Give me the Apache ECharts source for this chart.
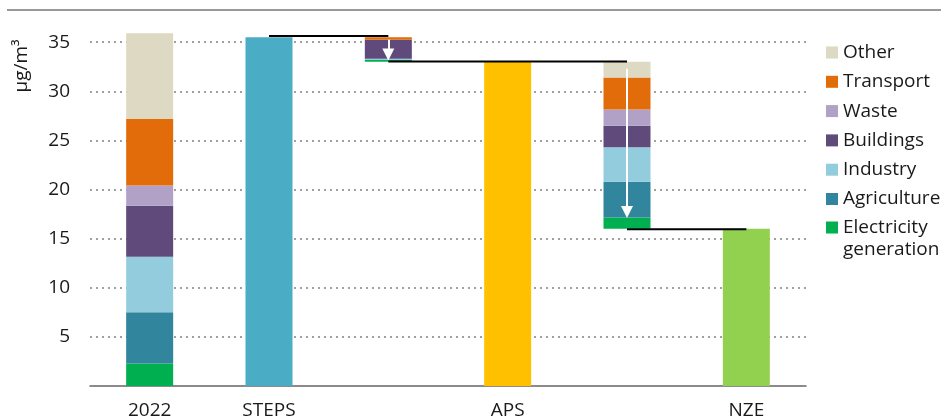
<!DOCTYPE html>
<html><head><meta charset="utf-8">
<script src="https://cdn.jsdelivr.net/npm/echarts@6/dist/echarts.min.js"></script>
<style>html,body{margin:0;padding:0;background:#fff}#c{width:941px;height:420px}</style>
</head><body><div id="c"></div>
<script>
// ---- data ----
const categories = ['2022', 'STEPS', 'STEPS to APS', 'APS', 'APS to NZE', 'NZE'];
const categoryLabels = ['2022', 'STEPS', '', 'APS', '', 'NZE'];
const yTicks = [5, 10, 15, 20, 25, 30, 35];
const waterfallBase = [null, null, 33.0, null, 16.0, null];
const electricity = [2.3, null, 0.18, null, 1.15, null];
const agriculture = [5.2, null, null, null, 3.65, null];
const industry = [5.65, null, 0.12, null, 3.5, null];
const buildings = [5.2, null, 1.95, null, 2.2, null];
const waste = [2.05, null, null, null, 1.65, null];
const transport = [6.8, null, 0.25, null, 3.25, null];
const other = [8.7, null, null, null, 1.6, null];
const steps = [null, 35.5, null, null, null, null];
const aps = [null, null, null, 33.0, null, null];
const nze = [null, null, null, null, null, 16.0];
const connectorSteps = [null, 35.62, 35.62, null, null, null];
const connectorAps = [null, null, 33.03, 33.03, 33.03, null];
const connectorNze = [null, null, null, null, 15.95, 15.95];
const arrowCategory = ['STEPS to APS', 'APS to NZE'];
const arrowFrom = [35.25, 32.3];
const arrowTo = [33.75, 17.7];
const legendMain = ['Other', 'Transport', 'Waste', 'Buildings', 'Industry', 'Agriculture'];

// ---- chart ----
const FONT = '"Open Sans", "Noto Sans", sans-serif';
const TXT = '#1a1a1a';
const BW = 47;
function stackBar(name, data, color) {
  return { name, type: 'bar', stack: 'total', data, barWidth: BW,
    itemStyle: { color }, emphasis: { disabled: true }, z: 2 };
}
function connector(data) {
  return { type: 'line', data, symbol: 'none', silent: true, z: 5,
    lineStyle: { color: '#000', width: 2 }, emphasis: { disabled: true } };
}
const chart = echarts.init(document.getElementById('c'), null, { renderer: 'canvas' });
chart.setOption({
  animation: false,
  backgroundColor: '#fff',
  textStyle: { fontFamily: FONT },
  grid: { left: 90, right: 135, top: 10, bottom: 30 },
  xAxis: {
    type: 'category', data: categories,
    axisLine: { lineStyle: { color: '#666', width: 1.5 } },
    axisTick: { show: false },
    axisLabel: { margin: 15, fontSize: 19, color: TXT, fontFamily: FONT,
      formatter: (v, i) => categoryLabels[i] },
    splitLine: { show: false }
  },
  yAxis: {
    type: 'value', min: 0, max: 38.27, interval: 5,
    axisLine: { show: false }, axisTick: { show: false },
    axisLabel: { margin: 20, fontSize: 19, color: TXT, fontFamily: FONT,
      showMaxLabel: false,
      formatter: v => yTicks.includes(v) ? String(v) : '' },
    splitLine: { showMaxLine: false, showMinLine: false,
      lineStyle: { color: '#a0a0a0', width: 2, type: [2, 4] } }
  },
  legend: [
    { orient: 'vertical', left: 821, top: 36.5, itemWidth: 12, itemHeight: 12, itemGap: 7.3,
      icon: 'rect', selectedMode: false, data: legendMain,
      textStyle: { fontFamily: FONT, fontSize: 19, lineHeight: 22, color: TXT } },
    { orient: 'vertical', left: 821, top: 211.5, itemWidth: 12, itemHeight: 44,
      selectedMode: false,
      data: [{ name: 'Electricity generation',
        icon: 'path://M0,5L12,5L12,17L0,17Z M0,0L0.01,0 M0,44L0.01,44' }],
      formatter: () => 'Electricity\ngeneration',
      textStyle: { fontFamily: FONT, fontSize: 19, lineHeight: 22, color: TXT } }
  ],
  graphic: [
    { type: 'line', shape: { x1: 7, y1: 10, x2: 941, y2: 10 }, style: { stroke: '#999', lineWidth: 2 }, silent: true },
    { type: 'text', x: 22, y: 66, rotation: Math.PI / 2, silent: true,
      style: { text: 'µg/m³', fontSize: 19, fontFamily: FONT, fill: TXT, textAlign: 'center', textVerticalAlign: 'middle' } }
  ],
  series: [
    { name: 'base', type: 'bar', stack: 'total', data: waterfallBase, barWidth: BW,
      itemStyle: { color: 'rgba(0,0,0,0)' }, silent: true, emphasis: { disabled: true } },
    stackBar('Electricity generation', electricity, '#00B050'),
    stackBar('Agriculture', agriculture, '#31859C'),
    stackBar('Industry', industry, '#93CDDD'),
    stackBar('Buildings', buildings, '#604A7B'),
    stackBar('Waste', waste, '#B2A1C7'),
    stackBar('Transport', transport, '#E36C0A'),
    stackBar('Other', other, '#DDD9C3'),
    stackBar('STEPS', steps, '#4BACC6'),
    stackBar('APS', aps, '#FFC000'),
    stackBar('NZE', nze, '#92D050'),
    connector(connectorSteps),
    connector(connectorAps),
    connector(connectorNze),
    { name: 'arrows', type: 'line', data: [], z: 10, silent: true,
      markLine: {
        silent: true, animation: false,
        symbol: ['none', 'triangle'], symbolSize: 12,
        lineStyle: { color: '#fff', width: 2, type: 'solid' },
        label: { show: false }, emphasis: { disabled: true },
        data: arrowCategory.map((c, i) => [{ coord: [c, arrowFrom[i]] }, { coord: [c, arrowTo[i]] }])
      } }
  ]
});
</script></body></html>
